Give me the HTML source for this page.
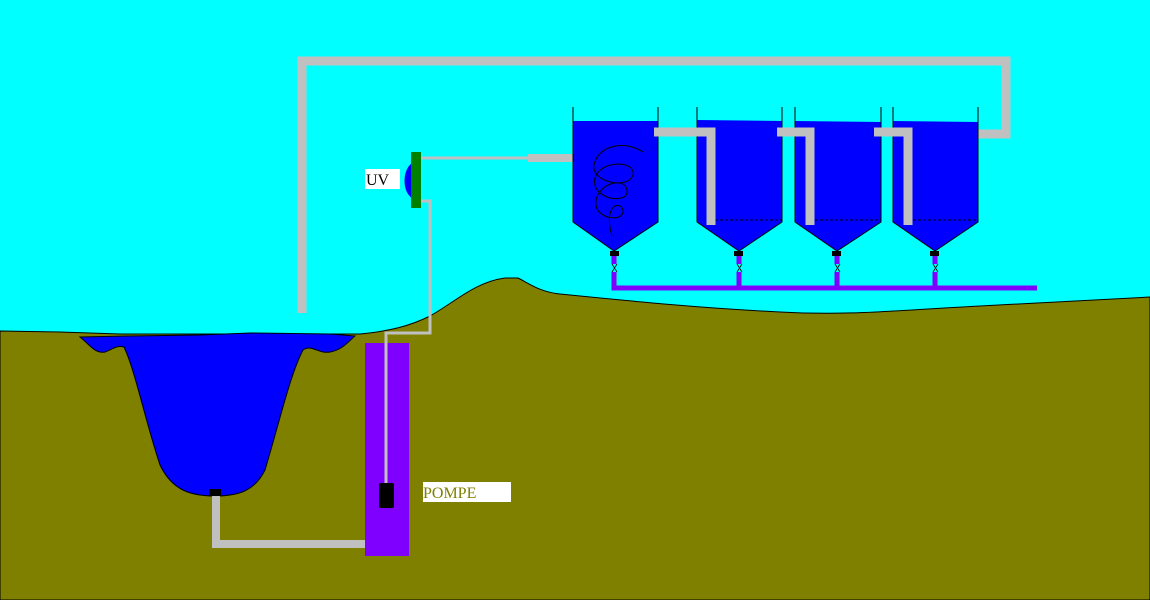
<!DOCTYPE html>
<html><head><style>html,body{margin:0;padding:0;background:#0ff;overflow:hidden}svg{display:block}</style></head>
<body>
<svg width="1150" height="600" xmlns="http://www.w3.org/2000/svg">
<rect width="1150" height="600" fill="#00ffff"/>
<path d="M0,331 L60,332 L120,334 L360,334 C390,331 410,326 430,316 C455,302 475,282 505,278 L518,278 C530,284 540,292 560,294 C640,302 700,308 780,312 C850,316 900,310 980,306 C1050,302 1100,300 1150,297 L1150,600 L0,600 Z" fill="#808000" stroke="#000" stroke-width="1"/>
<path d="M80,337 C90,345 95,354 105,352 C112,350 115,345 124,347 C135,370 145,420 160,465 C172,490 190,496 215,496 C240,496 255,490 265,470 C280,420 290,375 303,350 C312,344 318,354 330,352 C342,350 348,342 355,336 L330,334 L250,333 L200,335 L130,336 Z" fill="#0000ff" stroke="#000" stroke-width="1"/>
<rect x="209" y="489" width="12" height="7" fill="#000"/>
<path d="M216,496 L216,544 L368,544" fill="none" stroke="#c0c0c0" stroke-width="8"/>
<rect x="365" y="343" width="44" height="213" fill="#8000ff"/>
<path d="M386,484 L386,333 L430,333 L430,201 L421,201" fill="none" stroke="#c0c0c0" stroke-width="3"/>
<rect x="379" y="483" width="15" height="25" rx="2" fill="#000"/>
<rect x="423" y="482" width="88" height="20" fill="#fff"/>
<text x="423" y="498" font-family="Liberation Serif, serif" font-size="16" fill="#808000">POMPE</text>
<path d="M412,163 C402,170 402,192 412,198 Z" fill="#0000ff"/>
<rect x="411" y="152" width="10" height="56" fill="#008000"/>
<rect x="365" y="169" width="35" height="20" fill="#fff"/>
<text x="366" y="185" font-family="Liberation Serif, serif" font-size="16" fill="#000">UV</text>
<path d="M421,158 L530,158" stroke="#c0c0c0" stroke-width="3"/>
<rect x="528" y="154" width="48" height="8" fill="#c0c0c0"/>
<path d="M302,313 L302,61 L1006,61 L1006,134 L970,134" fill="none" stroke="#c0c0c0" stroke-width="9"/>
<g stroke="#000" stroke-width="1">
<path d="M573,121 L658,121 L658,222 L614,251 L573,222 Z" fill="#0000ff" stroke="none"/>
<path d="M697,120 L782,121 L782,222 L739,251 L697,222 Z" fill="#0000ff" stroke="none"/>
<path d="M795,121 L881,122 L881,222 L837,251 L795,222 Z" fill="#0000ff" stroke="none"/>
<path d="M893,121 L978,122 L978,222 L935,251 L893,222 Z" fill="#0000ff" stroke="none"/>
<path d="M573,107 L573,222 L614,251 L658,222 L658,107" fill="none"/>
<path d="M697,107 L697,222 L739,251 L782,222 L782,107" fill="none"/>
<path d="M795,107 L795,222 L837,251 L881,222 L881,107" fill="none"/>
<path d="M893,107 L893,222 L935,251 L978,222 L978,107" fill="none"/>
<path d="M715,220 L782,220 M815,220 L881,220 M913,220 L978,220" stroke-dasharray="3,2"/>
<path d="M643,152 C625,140 598,145 594,165 C591,182 628,190 633,175 C636,160 600,160 595,178 C590,200 630,205 627,190 C624,175 594,185 596,205 C598,220 625,222 623,210 C620,200 603,205 612,236" fill="none"/>
</g>
<path d="M654,132 L711,132 L711,225 M777,132 L810,132 L810,225 M874,132 L908,132 L908,225" fill="none" stroke="#c0c0c0" stroke-width="9"/>
<g fill="#000">
<rect x="610" y="251" width="9" height="5"/><rect x="734" y="251" width="9" height="5"/>
<rect x="832" y="251" width="9" height="5"/><rect x="930" y="251" width="9" height="5"/>
</g>
<g stroke="#8000ff" stroke-width="5" fill="none">
<path d="M614,256 L614,264 M614,272 L614,288 L1037,288 M739,256 L739,264 M739,272 L739,288 M837,256 L837,264 M837,272 L837,288 M935,256 L935,264 M935,272 L935,288"/>
</g>
<g stroke="#000" stroke-width="0.8">
<path d="M612,264 L617,272 M617,264 L612,272 M737,264 L742,272 M742,264 L737,272 M835,264 L840,272 M840,264 L835,272 M933,264 L938,272 M938,264 L933,272"/>
</g>
</svg>
</body></html>
